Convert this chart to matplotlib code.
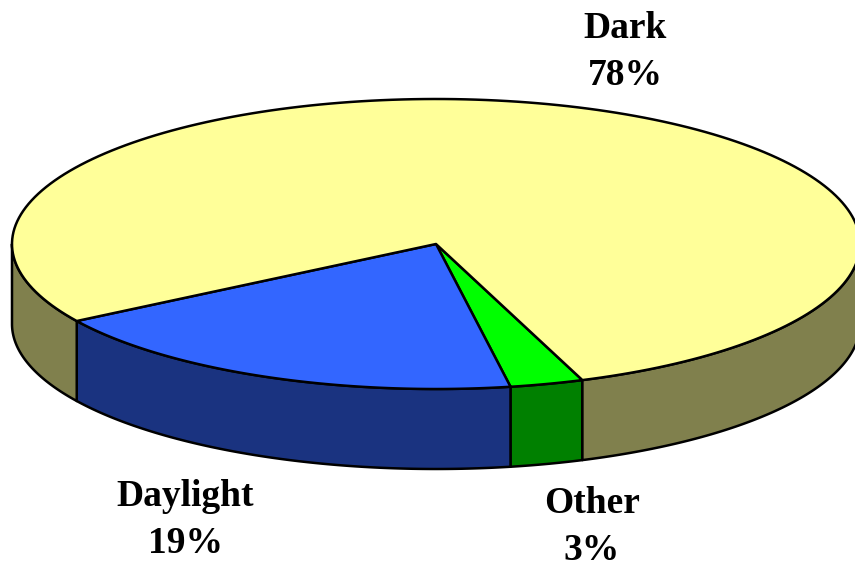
import numpy as np
import matplotlib
matplotlib.use('Agg')
import matplotlib.pyplot as plt
from matplotlib.patches import Polygon

# slices in drawing order, clockwise on screen from the Dark/Other edge
labels = ['Other', 'Daylight', 'Dark']
values = [2.8, 18.9, 78.3]
top_colors = ['#00FF00', '#3366FF', '#FFFF99']
side_colors = ['#008000', '#1A3380', '#80804D']

cx, cy = 436, 244
rx, ry = 424, 145
depth = 80
start = 69.8

plt.rcParams['font.family'] = ['Liberation Serif', 'DejaVu Serif']

fig = plt.figure(figsize=(8.55, 5.65), dpi=100)
ax = fig.add_axes([0, 0, 1, 1])
ax.set_xlim(0, 855)
ax.set_ylim(565, 0)
ax.axis('off')


def rim(a0, a1, dy=0):
    t = np.radians(np.linspace(a0, a1, 200))
    return np.column_stack([cx + rx * np.cos(t), cy + dy + ry * np.sin(t)])


angle = start
for value, top, side in zip(values, top_colors, side_colors):
    a1 = angle + value * 3.6
    # side wall, only the part facing the viewer
    for lo, hi in [(angle, min(a1, 180)), (max(angle, 360), min(a1, 360 + 180))]:
        if hi > lo:
            wall = np.vstack([rim(lo, hi), rim(hi, lo, depth)])
            ax.add_patch(Polygon(wall, closed=True, fc=side, ec='black', lw=1.8, joinstyle='round'))
    wedge = np.vstack([[cx, cy], rim(angle, a1)])
    ax.add_patch(Polygon(wedge, closed=True, fc=top, ec='black', lw=1.8, joinstyle='round', zorder=3))
    angle = a1

label_pos = [(592, 527), (185, 520), (625, 52)]
for name, value, (x, y) in zip(labels, values, label_pos):
    ax.text(x, y, f'{name}\n{round(value)}%', ha='center', va='center', fontsize=27,
            fontweight='bold', linespacing=1.45)

fig.savefig('out.png', dpi=100)
